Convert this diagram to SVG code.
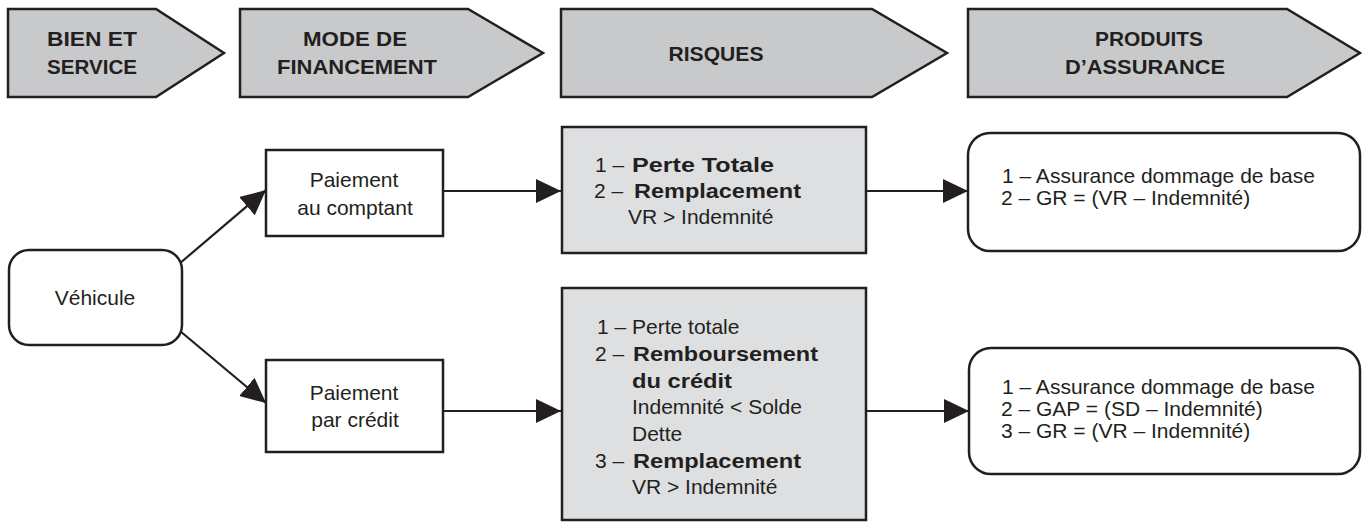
<svg xmlns="http://www.w3.org/2000/svg" width="1362" height="524" viewBox="0 0 1362 524">
<defs>
<style>
.hdr{fill:#c8c9cb;stroke:#231f20;stroke-width:2.5;stroke-linejoin:miter}
.box{fill:#ffffff;stroke:#231f20;stroke-width:2.5}
.gbox{fill:#dedfe0;stroke:#231f20;stroke-width:2.5}
.ht{font-family:"Liberation Sans",Arial,sans-serif;font-weight:bold;font-size:20px;fill:#231f20;text-anchor:middle}
.t{font-family:"Liberation Sans",Arial,sans-serif;font-size:21px;fill:#231f20}
.c{text-anchor:middle}
.b{font-weight:bold}
.con{stroke:#231f20;stroke-width:2.2;fill:none;marker-end:url(#ah)}
</style>
<marker id="ah" markerUnits="userSpaceOnUse" markerWidth="26" markerHeight="24" refX="25" refY="12" orient="auto">
<path d="M0,0 L25,12 L0,24 Z" fill="#231f20"/>
</marker>
</defs>
<rect width="1362" height="524" fill="#ffffff"/>

<g id="h1">
<polygon class="hdr" points="8,9 156,9 224,53 156,97 8,97"/>
<text class="ht" x="92" y="46" textLength="90" lengthAdjust="spacingAndGlyphs">BIEN ET</text>
<text class="ht" x="92" y="74" textLength="90" lengthAdjust="spacingAndGlyphs">SERVICE</text>
</g>
<g id="h2">
<polygon class="hdr" points="240,9 468,9 543,53 468,97 240,97"/>
<text class="ht" x="355" y="46" textLength="104" lengthAdjust="spacingAndGlyphs">MODE DE</text>
<text class="ht" x="357" y="74" textLength="160" lengthAdjust="spacingAndGlyphs">FINANCEMENT</text>
</g>
<g id="h3">
<polygon class="hdr" points="561,9 872,9 947,53 872,97 561,97"/>
<text class="ht" x="716" y="61" textLength="95" lengthAdjust="spacingAndGlyphs">RISQUES</text>
</g>
<g id="h4">
<polygon class="hdr" points="968,9 1287,9 1360,53 1287,97 968,97"/>
<text class="ht" x="1149" y="46" textLength="108" lengthAdjust="spacingAndGlyphs">PRODUITS</text>
<text class="ht" x="1145" y="74" textLength="160" lengthAdjust="spacingAndGlyphs">D’ASSURANCE</text>
</g>

<g id="connectors">
<line class="con" x1="179" y1="264" x2="266" y2="190"/>
<line class="con" x1="180" y1="331" x2="266" y2="403"/>
<line class="con" x1="443" y1="191" x2="561" y2="191"/>
<line class="con" x1="443" y1="411" x2="561" y2="411"/>
<line class="con" x1="866" y1="191" x2="968" y2="191"/>
<line class="con" x1="866" y1="411" x2="969" y2="411"/>
</g>

<g id="vehicule">
<rect class="box" x="9" y="250" width="173" height="95" rx="20" ry="20"/>
<text class="t c" x="95" y="305">Véhicule</text>
</g>
<g id="comptant">
<rect class="box" x="266" y="150" width="177" height="86"/>
<text class="t c" x="354" y="187">Paiement</text>
<text class="t c" x="355" y="215">au comptant</text>
</g>
<g id="credit">
<rect class="box" x="266" y="360" width="177" height="92"/>
<text class="t c" x="354" y="400">Paiement</text>
<text class="t c" x="355" y="427">par crédit</text>
</g>

<g id="risques1">
<rect class="gbox" x="562" y="127" width="304" height="126"/>
<text class="t" x="595" y="172">1 –</text>
<text class="t b" x="632" y="172" textLength="142" lengthAdjust="spacingAndGlyphs">Perte Totale</text>
<text class="t" x="594" y="198">2 –</text>
<text class="t b" x="634" y="198" textLength="167" lengthAdjust="spacingAndGlyphs">Remplacement</text>
<text class="t" x="628" y="224">VR &gt; Indemnité</text>
</g>

<g id="risques2">
<rect class="gbox" x="562" y="288" width="304" height="232"/>
<text class="t" x="597" y="334">1 – Perte totale</text>
<text class="t" x="595" y="361">2 –</text>
<text class="t b" x="633" y="361" textLength="185" lengthAdjust="spacingAndGlyphs">Remboursement</text>
<text class="t b" x="632" y="388" textLength="100" lengthAdjust="spacingAndGlyphs">du crédit</text>
<text class="t" x="632" y="414">Indemnité &lt; Solde</text>
<text class="t" x="632" y="441">Dette</text>
<text class="t" x="595" y="468">3 –</text>
<text class="t b" x="633" y="468" textLength="168" lengthAdjust="spacingAndGlyphs">Remplacement</text>
<text class="t" x="632" y="494">VR &gt; Indemnité</text>
</g>

<g id="produits1">
<rect class="box" x="968" y="133" width="392" height="118" rx="22" ry="22"/>
<text class="t" x="1002" y="183">1 – Assurance dommage de base</text>
<text class="t" x="1001" y="205">2 – GR = (VR – Indemnité)</text>
</g>

<g id="produits2">
<rect class="box" x="969" y="348" width="391" height="126" rx="22" ry="22"/>
<text class="t" x="1002" y="394">1 – Assurance dommage de base</text>
<text class="t" x="1001" y="416">2 – GAP = (SD – Indemnité)</text>
<text class="t" x="1001" y="438">3 – GR = (VR – Indemnité)</text>
</g>
</svg>
